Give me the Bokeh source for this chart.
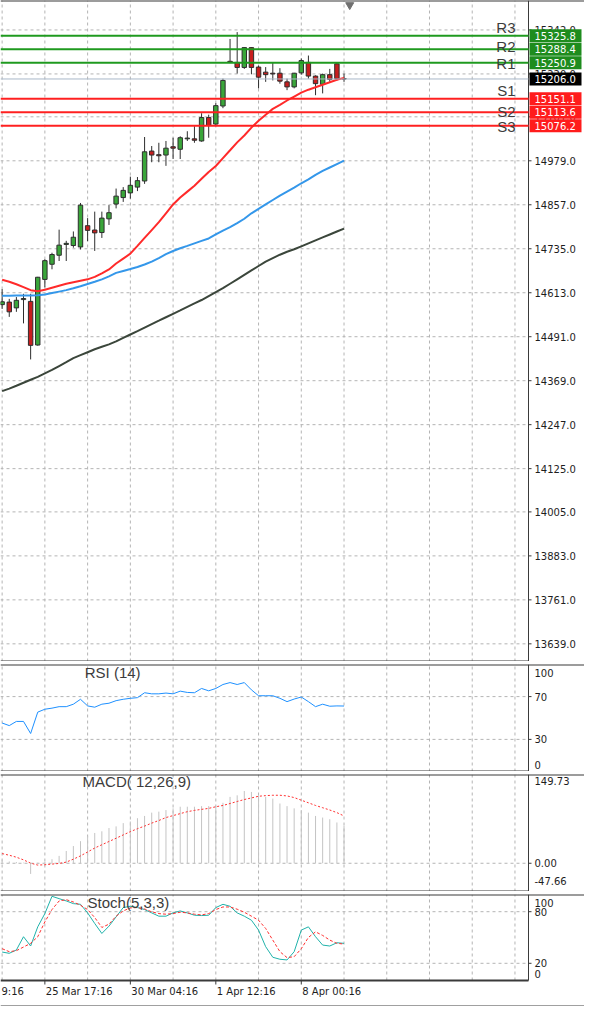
from bokeh.plotting import figure
from bokeh.layouts import column
from bokeh.models import Range1d, ColumnDataSource
from bokeh.core.properties import value
from bokeh.embed import file_html
from bokeh.resources import INLINE

# ---------------- data ----------------
opens = [14580, 14587, 14571, 14594, 14589, 14468, 14650, 14692, 14717, 14747,
         14744, 14740, 14799, 14787, 14780, 14818, 14859, 14877, 14890, 14906,
         14923, 15006, 14996, 14995, 15018, 15011, 15040, 15040, 15034, 15099,
         15081, 15131, 15255, 15252, 15238, 15293, 15239, 15225, 15222, 15222,
         15198, 15184, 15223, 15252, 15214, 15191, 15218, 15248, 15207]
highs = [14623, 14596, 14601, 14610, 14610, 14657, 14706, 14724, 14788, 14757,
         14783, 14862, 14820, 14838, 14838, 14856, 14902, 14906, 14935, 14934,
         15045, 15020, 15029, 15034, 15043, 15047, 15061, 15075, 15111, 15107,
         15139, 15207, 15317, 15336, 15294, 15294, 15243, 15239, 15252, 15236,
         15207, 15223, 15263, 15271, 15216, 15221, 15234, 15251, 15221]
lows = [14568, 14546, 14560, 14528, 14428, 14466, 14628, 14678, 14701, 14701,
        14738, 14733, 14756, 14729, 14765, 14801, 14847, 14865, 14874, 14895,
        14915, 14975, 14975, 14965, 14984, 14984, 15034, 15029, 15032, 15043,
        15075, 15125, 15250, 15221, 15234, 15219, 15180, 15198, 15202, 15193,
        15175, 15180, 15218, 15207, 15161, 15166, 15198, 15202, 15198]
closes = [14588, 14560, 14592, 14597, 14467, 14656, 14702, 14719, 14745, 14750,
          14767, 14856, 14786, 14779, 14820, 14835, 14881, 14897, 14911, 14924,
          15004, 14995, 14993, 15014, 15014, 15043, 15042, 15036, 15099, 15077,
          15132, 15202, 15252, 15238, 15293, 15238, 15211, 15218, 15220, 15200,
          15184, 15222, 15257, 15214, 15193, 15218, 15205, 15207, 15206]

ma_red = [14648.8, 14643.4, 14636.6, 14628.4, 14620.2, 14617.4, 14621.5, 14627.0, 14632.5, 14637.9,
          14642.0, 14646.1, 14650.2, 14657.0, 14666.6, 14677.5, 14694.0, 14707.6, 14721.3, 14743.1,
          14765.0, 14786.9, 14808.7, 14833.3, 14857.9, 14877.1, 14893.5, 14909.9, 14929.0, 14948.1,
          14964.5, 14986.4, 15008.2, 15030.1, 15049.2, 15071.1, 15090.2, 15106.6, 15123.0, 15134.0,
          15146.3, 15157.2, 15168.1, 15176.3, 15183.2, 15190.0, 15196.8, 15203.7, 15209.1]
ma_blue = [14604.6, 14604.9, 14605.1, 14605.1, 14605.3, 14605.7, 14607.9, 14612.0, 14616.1, 14620.2,
           14625.6, 14631.1, 14637.4, 14643.4, 14650.2, 14658.4, 14668.0, 14673.5, 14678.9, 14684.4,
           14691.2, 14699.4, 14709.0, 14719.9, 14728.7, 14736.3, 14743.1, 14750.0, 14756.8, 14763.6,
           14774.6, 14785.5, 14795.1, 14806.0, 14818.3, 14833.3, 14845.6, 14857.9, 14870.2, 14882.5,
           14893.5, 14904.4, 14916.7, 14927.6, 14939.9, 14950.8, 14960.4, 14970.0, 14979.5]
ma_gray = [14340.0, 14346.9, 14355.0, 14363.3, 14371.5, 14379.7, 14389.2, 14398.8, 14409.7, 14420.6,
           14431.6, 14439.8, 14448.0, 14456.2, 14463.0, 14469.8, 14478.0, 14487.6, 14497.2, 14506.7,
           14516.3, 14525.9, 14535.4, 14545.0, 14554.6, 14564.1, 14573.7, 14583.3, 14592.8, 14603.8,
           14614.7, 14625.6, 14637.9, 14650.2, 14662.5, 14674.8, 14687.1, 14699.4, 14709.0, 14718.5,
           14726.7, 14733.6, 14741.8, 14750.0, 14758.2, 14766.4, 14774.6, 14782.8, 14791.0]

level_names = ["R3", "R2", "R1", "S1", "S2", "S3"]
level_values = [15325.8, 15288.4, 15250.9, 15151.1, 15113.6, 15076.2]
current_price = 15206.0

rsi = [45.3, 42.9, 46.8, 46.8, 35.5, 55.5, 58.2, 59.2, 60.6, 60.6,
       62.9, 67.5, 61.3, 60.1, 62.9, 63.8, 66.2, 67.5, 68.4, 69.0,
       73.6, 72.6, 72.6, 73.3, 72.6, 75.1, 73.9, 73.6, 77.6, 75.4,
       77.6, 81.3, 83.1, 81.3, 83.1, 76.3, 70.8, 70.8, 70.8, 68.4,
       65.3, 67.7, 69.6, 65.3, 60.6, 62.9, 61.0, 61.3, 61.2]

macd_hist = [6.0, 3.0, 2.0, 1.0, -18.0, 0.8, 2.5, 6.8, 12.4, 20.7,
             29.0, 37.3, 45.6, 51.1, 53.9, 59.4, 62.2, 67.7, 70.5, 76.0,
             79.8, 85.4, 87.1, 89.7, 92.6, 95.4, 95.4, 95.4, 96.4, 96.4,
             96.4, 102.0, 112.0, 114.6, 121.9, 120.3, 114.6, 112.0, 109.1, 100.8,
             96.4, 92.6, 89.7, 85.4, 79.8, 77.1, 74.3, 68.8, 63.2]
macd_signal = [16.3, 13.5, 10.2, 5.7, 0.2, -3.1, -2.5, -1.4, -0.3, 1.9,
               6.9, 12.4, 19.0, 25.7, 31.2, 36.7, 42.2, 47.8, 53.3, 58.3,
               62.7, 67.7, 72.1, 77.1, 80.4, 83.7, 87.0, 89.2, 90.9, 92.6,
               95.3, 97.5, 100.8, 104.2, 107.5, 110.2, 113.0, 114.1, 114.7, 114.7,
               113.6, 110.8, 106.4, 102.0, 97.5, 93.7, 89.8, 85.4, 79.8]

stoch_main = [33.1, 31.6, 35.5, 50.9, 40.1, 62.4, 77.8, 97.9, 95.2, 92.5,
              89.4, 88.6, 78.6, 66.3, 54.7, 63.2, 74.0, 84.8, 86.3, 84.8,
              82.5, 78.6, 74.8, 74.8, 78.6, 80.9, 78.6, 75.9, 75.5, 75.9,
              84.8, 88.6, 86.3, 78.6, 74.8, 70.1, 58.6, 39.3, 27.0, 24.7,
              23.9, 33.5, 58.6, 62.4, 50.9, 41.2, 40.1, 43.9, 43.2]
stoch_signal = [37.0, 33.5, 34.7, 38.9, 43.2, 50.9, 68.2, 82.5, 92.5, 94.0,
                91.3, 87.5, 82.5, 73.2, 61.7, 65.5, 74.8, 80.9, 84.4, 84.8,
                83.2, 79.8, 77.8, 77.1, 77.8, 79.4, 78.6, 77.1, 76.3, 77.8,
                82.5, 85.5, 85.5, 82.9, 79.4, 74.8, 70.1, 60.5, 47.0, 33.5,
                26.6, 27.7, 37.0, 50.1, 56.6, 52.4, 47.0, 43.2, 42.4]

price_ticks = [15342.0, 15220.0, 15101.0, 14979.0, 14857.0, 14735.0, 14613.0, 14491.0,
               14369.0, 14247.0, 14125.0, 14005.0, 13883.0, 13761.0, 13639.0]
rsi_ticks = [70, 30]
rsi_range = [0, 100]
macd_ticks = [0.0]
macd_range = [-47.66, 149.73]
stoch_ticks = [80, 20]
stoch_range = [0, 100]

time_label_bars = [-6, 6, 18, 30, 42]
time_labels = ["9:16", "25 Mar 17:16", "30 Mar 04:16", "1 Apr 12:16", "8 Apr 00:16"]

panel_titles = ["RSI (14)", "MACD( 12,26,9)", "Stoch(5,3,3)"]

# ---------------- layout / style ----------------
N = len(opens)
bars = list(range(N))
W = 584
CHART_W = 528                      # chart area width, price scale to its right
X_START, X_END = -0.23, 73.9       # visible bar range of the chart area
PX = CHART_W / (X_END - X_START)   # pixels per bar
X_RIGHT = X_START + W / PX         # frame also covers the price-scale strip
PRICE_LO, PRICE_HI = 13590.0, 15423.7
TICK = 3 / PX
FONT_AX = "DejaVu Sans"
FONT_TXT = "Liberation Sans"
GRID_COLOR = "#b4b4b4"
FRAME_COLOR = "#3a3a3a"
AX_TEXT = "#1e1e1e"
TITLE_TEXT = "#3c3c3c"
WICK = "#2e2e2e"
BULL = "#3aa63a"
BEAR = "#c81e1e"
R_COLOR = "#1f9a1f"
S_COLOR = "#ff2020"
BOX_R = "#1e8c1e"
BOX_S = "#ff1c1c"

xr = Range1d(X_START, X_RIGHT)
vgrid = list(range(0, 74, 6))


def panel(height, y_lo, y_hi, top_gap):
    p = figure(width=W, height=height, x_range=xr, y_range=Range1d(y_lo, y_hi),
               output_backend="svg", toolbar_location=None,
               x_axis_location=None, y_axis_location=None,
               min_border_left=0, min_border_right=0,
               min_border_top=top_gap, min_border_bottom=0)
    p.outline_line_color = None
    p.grid.visible = False
    p.background_fill_color = "white"
    p.border_fill_color = "white"
    return p


def scale(p, lo, hi, ticks, labels, bound_labels, bound_offsets):
    n = len(ticks)
    nv = len(vgrid)
    p.segment(x0=vgrid, y0=[lo] * nv, x1=vgrid, y1=[hi] * nv,
              line_color=GRID_COLOR, line_dash="3 3", line_width=1)
    p.segment(x0=[X_START] * n, y0=ticks, x1=[X_END] * n, y1=ticks,
              line_color=GRID_COLOR, line_dash="3 3", line_width=1)
    # frame lines
    p.segment(x0=[X_END], y0=[lo], x1=[X_END], y1=[hi], line_color=FRAME_COLOR, line_width=1)
    p.segment(x0=[X_START, X_START], y0=[hi, lo], x1=[X_RIGHT, X_END], y1=[hi, lo],
              line_color=FRAME_COLOR, line_width=2)
    # ticks + labels on the price scale
    p.segment(x0=[X_END] * n, y0=ticks, x1=[X_END + TICK] * n, y1=ticks,
              line_color=FRAME_COLOR, line_width=1)
    p.text(x=[X_END] * n, y=ticks, text=labels, x_offset=6,
           text_font=value(FONT_AX), text_font_size="10px", text_color=AX_TEXT,
           text_baseline="middle", text_align="left")
    if bound_labels:
        p.text(x=[X_END] * 2, y=[hi, lo], text=bound_labels, x_offset=6, y_offset=bound_offsets,
               text_font=value(FONT_AX), text_font_size="10px", text_color=AX_TEXT,
               text_baseline="middle", text_align="left")


def title(p, x, y, txt, dy):
    p.text(x=[x], y=[y], text=[txt], text_font=value(FONT_TXT), text_font_size="15px",
           text_color=TITLE_TEXT, text_baseline="middle", text_align="left", y_offset=dy)


# ---------------- main price panel ----------------
main = panel(661, PRICE_LO, PRICE_HI, 0)
scale(main, PRICE_LO, PRICE_HI, price_ticks, [f"{t:.1f}" for t in price_ticks], None, None)

src = ColumnDataSource(dict(
    x=bars,
    top=[max(o, c) for o, c in zip(opens, closes)],
    bottom=[min(o, c) for o, c in zip(opens, closes)],
    high=highs, low=lows,
    fill=[BULL if c >= o else BEAR for o, c in zip(opens, closes)],
))
main.segment(x0="x", y0="low", x1="x", y1="high", source=src, line_color=WICK, line_width=1)
main.vbar(x="x", top="top", bottom="bottom", width=0.62, fill_color="fill",
          line_color=WICK, line_width=1, source=src)

main.line(bars, ma_gray, line_color="#3b463b", line_width=2)
main.line(bars, ma_blue, line_color="#3497ea", line_width=2)
main.line(bars, ma_red, line_color="#ff2a2a", line_width=2)

main.segment(x0=[X_START], y0=[current_price], x1=[X_END], y1=[current_price],
             line_color="#a8b8c8", line_width=1)
nl = len(level_values)
main.segment(x0=[X_START] * nl, y0=level_values, x1=[X_END] * nl, y1=level_values,
             line_color=[R_COLOR] * 3 + [S_COLOR] * 3, line_width=2)

name_offsets = [-8, -3, 1, -8, -1, 1]
main.text(x=[X_END] * nl, y=level_values, text=level_names, x_offset=-13,
          y_offset=name_offsets, text_font=value(FONT_TXT), text_font_size="15px",
          text_color=TITLE_TEXT, text_align="right", text_baseline="alphabetic")

main.scatter(x=[N - 0.2], y=[PRICE_HI - 4.5 / (661 / (PRICE_HI - PRICE_LO))],
             marker="inverted_triangle", size=8, fill_color="#707070", line_color="#707070")

box_vals = level_values + [current_price]
box_cols = [BOX_R] * 3 + [BOX_S] * 3 + ["black"]
nb = len(box_vals)
main.rect(x=[X_END + 27 / PX] * nb, y=box_vals, width=52, height=13,
          width_units="screen", height_units="screen", fill_color=box_cols, line_color=None)
main.text(x=[X_END] * nb, y=box_vals, text=[f"{v:.1f}" for v in box_vals], x_offset=6,
          text_font=value(FONT_AX), text_font_size="10px", text_color="white",
          text_baseline="middle", text_align="left")

# ---------------- RSI ----------------
prsi = panel(110, rsi_range[0], rsi_range[1], 3)
scale(prsi, rsi_range[0], rsi_range[1], rsi_ticks, [str(t) for t in rsi_ticks],
      ["100", "0"], [8, -7])
prsi.line(bars, rsi, line_color="#1e90ff", line_width=1)
title(prsi, 11.6, rsi_range[1], panel_titles[0], 8)

# ---------------- MACD ----------------
pmacd = panel(120, macd_range[0], macd_range[1], 3)
scale(pmacd, macd_range[0], macd_range[1], macd_ticks, [f"{t:.2f}" for t in macd_ticks],
      [f"{macd_range[1]:.2f}", f"{macd_range[0]:.2f}"], [6, -11])
pmacd.segment(x0=bars, y0=[0] * N, x1=bars, y1=macd_hist, line_color="#c4c4c4", line_width=1)
pmacd.line(bars, macd_signal, line_color="#ff3030", line_width=1, line_dash="2 2")
title(pmacd, 11.3, macd_range[1], panel_titles[1], 7)

# ---------------- Stochastic ----------------
ST_FRAME, ST_LABELS = 86, 26
st_lo = stoch_range[0] - ST_LABELS * (stoch_range[1] - stoch_range[0]) / ST_FRAME
pst = panel(3 + ST_FRAME + ST_LABELS, st_lo, stoch_range[1], 3)
scale(pst, stoch_range[0], stoch_range[1], stoch_ticks, [str(t) for t in stoch_ticks],
      ["100", "0"], [8, -7])
pst.line(bars, stoch_main, line_color="#20b2aa", line_width=1)
pst.line(bars, stoch_signal, line_color="#ff3030", line_width=1, line_dash="3 2")
title(pst, 12.0, stoch_range[1], panel_titles[2], 8)
pst.segment(x0=[X_START], y0=[st_lo], x1=[X_RIGHT], y1=[st_lo], line_color="#a0a0a0", line_width=3)

tl_x = [max(b, X_START) for b in time_label_bars]
pst.text(x=tl_x, y=[stoch_range[0]] * len(tl_x), text=time_labels, x_offset=1, y_offset=5,
         text_font=value(FONT_AX), text_font_size="10px", text_color=AX_TEXT,
         text_baseline="top", text_align="left")
pst.segment(x0=time_label_bars, y0=[stoch_range[0]] * len(tl_x), x1=time_label_bars,
            y1=[stoch_range[0] - 4 * (stoch_range[1] - stoch_range[0]) / ST_FRAME] * len(tl_x),
            line_color=FRAME_COLOR, line_width=1)

layout = column(main, prsi, pmacd, pst)
open("out.html", "w").write(file_html(layout, INLINE))
